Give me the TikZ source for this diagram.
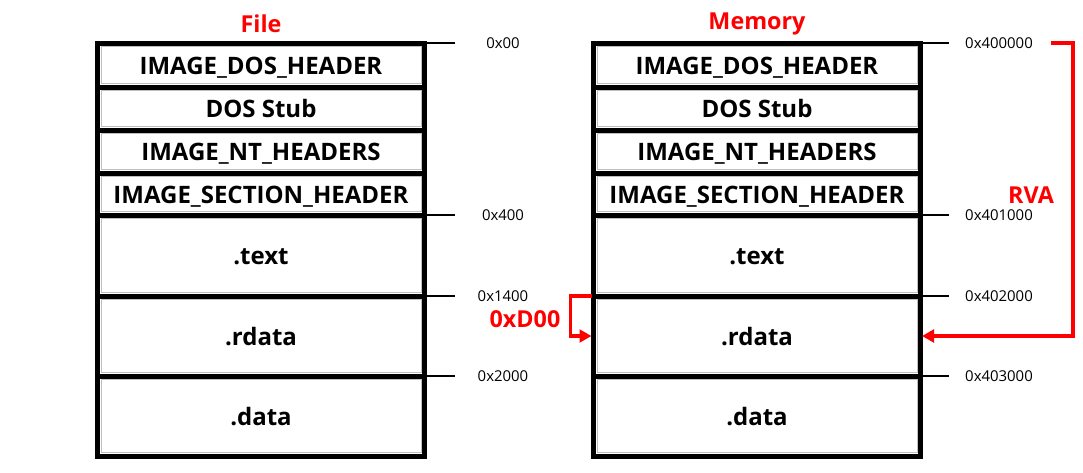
\documentclass[tikz,border=0pt]{standalone}
\usepackage{fontspec}
\setmainfont{Open Sans}
\usetikzlibrary{arrows.meta}
\begin{document}
\begin{tikzpicture}[x=0.75pt,y=-0.75pt,
  cell/.style={draw=black, line width=3.75pt, outer sep=0pt, inner sep=0pt,
    minimum width=245.25pt, text height=16.5pt, text depth=3pt,
    font=\bfseries\fontsize{18}{20}\selectfont},
  innerline/.style={draw=black!25, line width=0.75pt},
  tick/.style={line width=1.5pt},
  addr/.style={font=\fontsize{11.2}{13}\selectfont, inner sep=0pt},
  titlelbl/.style={text=red, font=\bfseries\fontsize{17.5}{20}\selectfont, inner sep=0pt},
  redarrow/.style={draw=red, line width=2.6pt, line join=miter,
    -{Triangle[length=9pt,width=9.5pt]}}
]
\useasboundingbox[fill=white] (0,0) rectangle (1083,472);

% cells
\foreach \n/\y/\h/\t in {1/65/44/IMAGE\_DOS\_HEADER, 2/108.5/43/DOS Stub,
    3/151.5/43/IMAGE\_NT\_HEADERS, 4/194/42/IMAGE\_SECTION\_HEADER,
    5/255.5/81/.text, 6/336/80/.rdata, 7/416/80/.data}{
  \node[cell, minimum height=\h*0.75pt] (f\n) at (261,\y) {\t};
  \node[cell, minimum height=\h*0.75pt] (m\n) at (757,\y) {\t};
  \draw[innerline] ([shift={(3.5,3.5)}]f\n.north west) rectangle ([shift={(-3.5,-3.5)}]f\n.south east);
  \draw[innerline] ([shift={(3.5,3.5)}]m\n.north west) rectangle ([shift={(-3.5,-3.5)}]m\n.south east);
}

% titles
\node[titlelbl] (tfile) at (261,24) {File};
\node[titlelbl] (tmem) at (757,24) {Memory};

% file addresses
\node[addr] (fa0) at (503,43) {0x00};
\node[addr] (fa1) at (503,215) {0x400};
\node[addr] (fa2) at (503,296) {0x1400};
\node[addr] (fa3) at (503,376) {0x2000};
\draw[tick] ([xshift=1.5pt]f1.north east) -- ++(28,0);
\draw[tick] ([xshift=1.5pt]f4.south east) -- ++(28,0);
\draw[tick] ([xshift=1.5pt]f5.south east) -- ++(28,0);
\draw[tick] ([xshift=1.5pt]f6.south east) -- ++(28,0);

% memory addresses
\node[addr] (ma0) at (999,43) {0x400000};
\node[addr] (ma1) at (999,215) {0x401000};
\node[addr] (ma2) at (999,296) {0x402000};
\node[addr] (ma3) at (999,376) {0x403000};
\draw[tick] ([xshift=1.5pt]m1.north east) -- ++(26,0);
\draw[tick] ([xshift=1.5pt]m4.south east) -- ++(26,0);
\draw[tick] ([xshift=1.5pt]m5.south east) -- ++(26,0);
\draw[tick] ([xshift=1.5pt]m6.south east) -- ++(26,0);

% RVA arrow
\coordinate (rvastart) at (1051,43);
\draw[redarrow] (rvastart) -- ++(22,0) |- ([shift={(1.5,0)}]m6.east);
\node[titlelbl] (rva) at (1031,195) {RVA};

% 0xD00 arrow
\draw[redarrow] ([shift={(-2,0)}]m6.north west) -- ++(-21,0) |- ([shift={(-2,0)}]m6.west);
\node[titlelbl] (dlbl) at (525,319) {0xD00};
\end{tikzpicture}
\end{document}
